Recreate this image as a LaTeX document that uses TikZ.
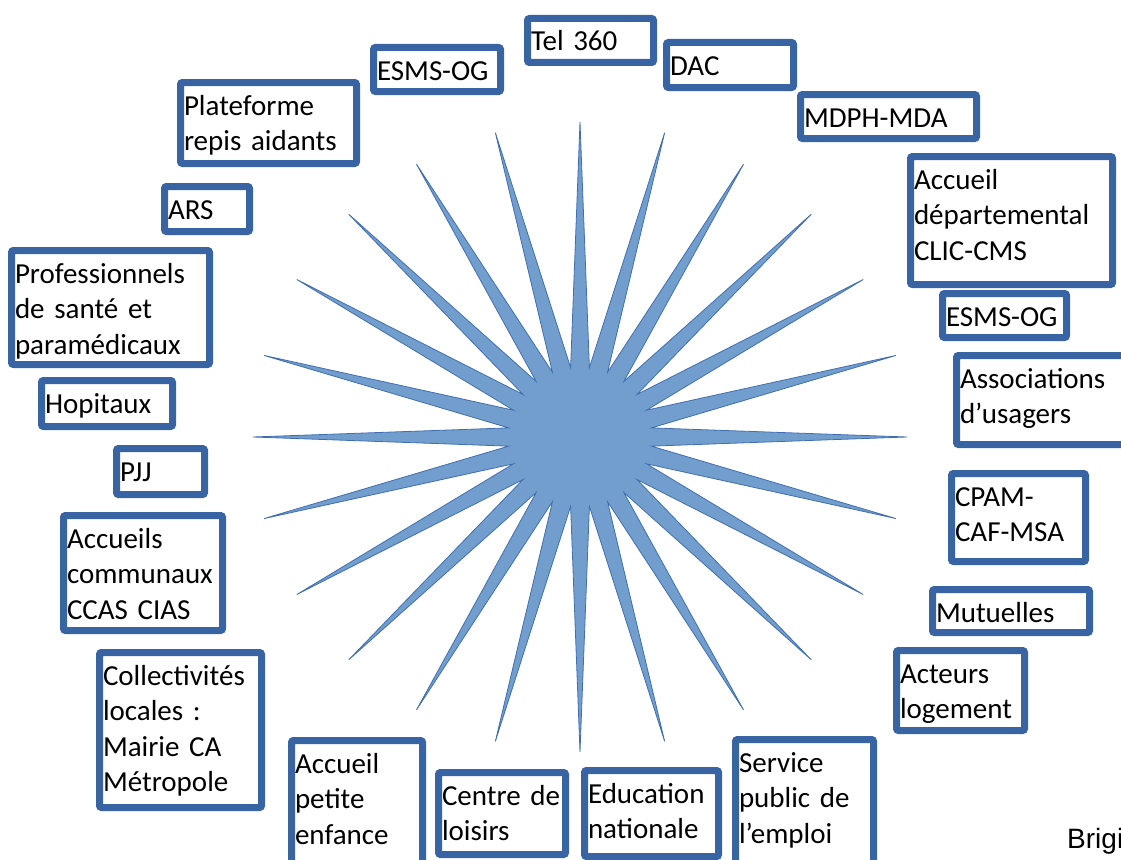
\documentclass[tikz,border=0pt]{standalone}
\usepackage{fontspec}
\setmainfont{Carlito}
\newfontfamily\sigfont{Liberation Sans}

\definecolor{boxblue}{RGB}{56,100,164}
\definecolor{starfill}{RGB}{114,158,206}
\definecolor{staredge}{RGB}{64,110,176}

\tikzset{
	orgbox/.style={draw=boxblue, line width=7pt, rounded corners=2pt, fill=white,
		anchor=north west, align=left, inner xsep=3.5pt, inner ysep=0pt,
		text height=32.5pt, font=\fontsize{29pt}{35.5pt}\selectfont},
	starshape/.style={fill=starfill, draw=staredge, line width=0.8pt}
}

\begin{document}
\begin{tikzpicture}[x=1pt, y=-1pt]

	\useasboundingbox (0,0) rectangle (1121,859);
	\clip (0,0) rectangle (1121,859);

	% star, 24 points
	\coordinate (hub) at (580,437);
	\draw[starshape] ([shift={(0:327 and 315)}]hub)
	\foreach \a in {0,15,...,345}
	{
		-- ([shift={(\a:327 and 315)}]hub) -- ([shift={(\a+7.5:72 and 70)}]hub)
	} -- cycle;

	% name / left / top / right / bottom / text
	\foreach \nm / \xa / \ya / \xb / \yb / \txt in {
	tel/524/15/657/66/{Tel~360},
	dac/663/39/797/91/{DAC},
	mdph/797/91/980/142/{MDPH-MDA},
	dep/907/153/1116/288/{Accueil\\départemental\\CLIC-CMS},
	esmsb/939/290/1070/341/{ESMS-OG},
	assoc/953/352/1135/448/{Associations\\d’usagers},
	cpam/948/470/1089/565/{CPAM-\\CAF-MSA},
	mut/929/586/1093/636/{Mutuelles},
	loge/893/647/1028/734/{Acteurs\\logement},
	emploi/732/736/877/880/{Service\\public~de\\l’emploi},
	educ/581/767/722/860/{Education\\nationale},
	loisir/435/769/569/858/{Centre~de\\loisirs},
	enfance/288/737/426/880/{Accueil\\petite\\enfance},
	coll/96/649/265/811/{Collectivités\\locales~:\\Mairie~CA\\Métropole},
	ccas/60/512/226/634/{Accueils\\communaux\\CCAS~CIAS},
	pjj/113/445/208/498/{PJJ},
	hop/38/377/176/430/{Hopitaux},
	pro/8/247/213/368/{Professionnels\\de~santé~et\\paramédicaux},
	ars/161/183/253/235/{ARS},
	plat/177/79/360/167/{Plateforme\\repis~aidants},
	esmsa/370/44/504/95/{ESMS-OG}}
	{
		\pgfmathsetmacro\tw{\xb-\xa-14}
		\pgfmathsetmacro\td{\yb-\ya-7-32.5}
		\node[orgbox, text width=\tw pt, text depth=\td pt] (\nm) at (\xa,\ya) {\txt};
	};

	\node[font=\sigfont\fontsize{28pt}{32pt}\selectfont, anchor=base west, inner sep=0pt] (sig) at (1067,848) {Brigi};

\end{tikzpicture}
\end{document}
